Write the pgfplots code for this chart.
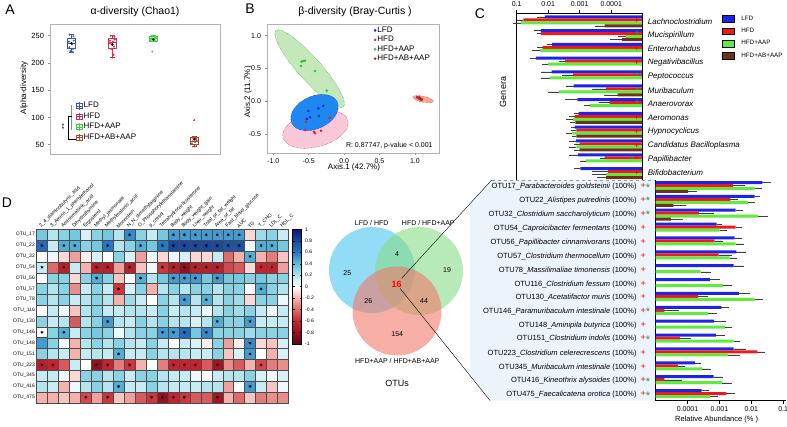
\documentclass[border=0pt]{standalone}
\usepackage{fontspec}
\setmainfont{Liberation Sans}
\usepackage{pgfplots}
\usepackage{pgfplotstable}
\pgfplotsset{compat=1.18}
\usepgfplotslibrary{statistics}

% group colours
\definecolor{bLFD}{RGB}{30,35,235}
\definecolor{bHFD}{RGB}{238,25,30}
\definecolor{bAAP}{RGB}{95,235,60}
\definecolor{bAB}{RGB}{112,50,22}
\definecolor{aLFD}{RGB}{55,85,205}
\definecolor{aHFD}{RGB}{215,45,80}
\definecolor{aAAP}{RGB}{55,215,55}
\definecolor{aAB}{RGB}{170,75,45}
\definecolor{pLFD}{RGB}{20,40,215}
\definecolor{pHFD}{RGB}{228,28,55}
\definecolor{pAAP}{RGB}{45,195,45}
\definecolor{pAB}{RGB}{200,30,40}
\definecolor{starG}{RGB}{35,150,65}
\definecolor{paleblue}{RGB}{236,244,251}
\definecolor{vBlue}{RGB}{100,205,242}
\definecolor{vGreen}{RGB}{135,220,135}
\definecolor{vRed}{RGB}{242,120,105}

\newcommand{\fs}[1]{\fontsize{#1}{#1}\selectfont}
\newcommand{\pl}{\textcolor{red}{\fs{9}+}}
\newcommand{\st}{\textcolor{starG}{\raisebox{-2.6pt}{\fs{11}*}}}
\newcommand{\otu}[3]{#1\_\textit{#2} (100\%)\hspace{4pt}\makebox[11pt][l]{#3}}
\newcommand{\gen}[3]{%
  \node[anchor=east, inner sep=0pt, xshift=-3pt] at (axis cs:1e-5,#1) {#2};
  \node[anchor=west, inner sep=0pt, xshift=5pt, font=\fs{8}\itshape] at (axis cs:1e-5,#1) {#3};}

\pgfplotsset{
  every axis/.append style={scale only axis, enlargelimits=false,
    /pgf/number format/assume math mode=true},
  greyframe/.style={axis line style={black!30, line width=0.8pt},
    tick style={black!45, line width=0.5pt}, tick align=outside,
    major tick length=2.5pt},
  hbar/.style={xbar, bar width=3pt, bar shift=0pt, draw=none,
    error bars/x dir=plus, error bars/x explicit,
    error bars/error bar style={black!75, line width=0.3pt},
    error bars/error mark options={black!75, mark size=0.9pt, line width=0.3pt}},
}

% panel C, genera: relative abundance (%) and error
\pgfplotstableread{
row lfd     lfdE    hfd     hfdE    aap     aapE    ab      abE
0   0.0127  0.0080  0.0616  0.0334  0.073   0.048   1.62e-4 1.48e-4
1   0.017   0.009   0.017   0.005   3.4e-5  2.1e-5  4.6e-5  5.4e-5
2   0.0075  0.003   0.0151  0.0056  0.0183  0.013   nan     nan
3   0.0245  0.0109  0.0029  0.0014  0.01    0.0044  nan     nan
4   0.00785 0.0084  0.00162 0.0018  0.00886 0.0073  nan     nan
5   0.00155 0.00105 1.44e-4 2.36e-4 0.0046  0.0047  6.2e-5  9.8e-5
6   0.00119 0.0016  1.12e-4 1.18e-4 4.8e-4  2.2e-4  nan     nan
7   0.00108 3.7e-4  0.00145 6.5e-4  0.00163 8.7e-4  0.00137 5.3e-4
8   0.00145 3.5e-4  0.00128 5.2e-4  0.0017  8e-4    0.00128 4.2e-4
9   0.0013  8e-4    0.001   4.5e-4  0.00128 7.2e-4  0.001   4.5e-4
10  0.00113 9.7e-4  1.62e-4 4.8e-5  6.5e-4  3e-4    nan     nan
11  9.5e-4  5e-4    1.27e-4 2.5e-4  1.44e-4 2.4e-4  1.44e-4 1.2e-4
}\genera

% panel C, the 16 shared OTUs
\pgfplotstableread{
row lfd     lfdE    hfd     hfdE    aap     aapE    ab      abE
0   0.0221  0.0181  0.00267 0.0032  0.0127  0.0077  1.05e-4 8.5e-5
1   0.0127  0.0047  0.0022  0.0013  0.00787 0.0048  3.6e-5  4.7e-5
2   0.00323 0.0018  2.26e-4 4e-4    0.0162  0.0148  3.0e-5  3.8e-5
3   8.1e-4  3.5e-4  0.00323 0.0015  0.00102 6.3e-4  nan     nan
4   0.003   0.0017  7.1e-4  4.9e-4  0.00323 0.0023  nan     nan
5   0.0034  0.0032  9.5e-4  0.0014  0.0021  0.0013  nan     nan
6   0.00279 0.0027  nan     nan     2.55e-4 2.45e-4 nan     nan
7   5e-4    4.8e-4  nan     nan     0.0013  0.0011  nan     nan
8   0.0041  0.0044  2.15e-4 2.05e-4 0.0127  0.0094  nan     nan
9   0.00115 7.1e-4  1.87e-5 3.2e-5  4.4e-4  3.3e-4  nan     nan
10  6.8e-4  7.8e-4  nan     nan     0.00147 9.3e-4  nan     nan
11  7.7e-4  6.3e-4  5.75e-5 6.6e-5  0.00279 0.0013  nan     nan
12  0.00279 0.0038  0.0154  0.0094  0.00186 0.0022  nan     nan
13  1.7e-4  8.5e-5  5e-5    2.7e-5  2.9e-4  2.1e-4  nan     nan
14  6.6e-4  5.8e-4  1.87e-5 4.6e-5  0.00124 0.0011  nan     nan
15  2.75e-4 1.65e-4 0.00166 0.0013  5e-4    3.6e-4  nan     nan
}\otus

\begin{document}
\begin{tikzpicture}
\useasboundingbox (0pt,0pt) rectangle (787pt,426pt);

% pale region behind the OTU bars
\fill[paleblue] (470pt,222.4pt) -- (491.7pt,246pt) -- (655.7pt,246pt) -- (655.7pt,25.5pt)
  -- (490pt,25.5pt) -- (470pt,50.6pt) -- cycle;

\begin{scope}[x=1pt,y=1pt]
% Venn diagram
\fill[vBlue, fill opacity=0.7] (372,156) circle[radius=43pt];
\fill[vGreen, fill opacity=0.6] (419,155) circle[radius=44pt];
\fill[vRed, fill opacity=0.6] (397,115) circle[radius=44.5pt];
\draw[black, line width=0.4pt] (401.7,147.7) -- (491.7,246);
\draw[black, line width=0.4pt] (400,137.7) -- (490,25.5);
\draw[black!40, dashed, line width=0.4pt] (491.7,246) -- (655.7,246);
\node[font=\fs{7}] at (371.7,203.3) {LFD / HFD};
\node[font=\fs{7}] at (428.3,203.3) {HFD / HFD+AAP};
\node[font=\fs{7}] at (397.3,65) {HFD+AAP / HFD+AB+AAP};
\node[font=\fs{9}] at (397,42.7) {OTUs};
\node[font=\fs{7}] at (347.3,152.7) {25};
\node[font=\fs{7}] at (397,172.3) {4};
\node[font=\fs{7}] at (447,156) {19};
\node[font=\fs{9}\bfseries, text=red] at (396.7,142) {16};
\node[font=\fs{7}] at (368.3,125.3) {26};
\node[font=\fs{7}] at (424,124.7) {44};
\node[font=\fs{7}] at (397.3,92.3) {154};

% panel letters, titles, labels
\node[font=\fs{14}] at (10,416) {A};
\node[font=\fs{14}] at (250,417) {B};
\node[font=\fs{14}] at (480,412) {C};
\node[font=\fs{14}] at (7,223) {D};
\node[font=\fs{10.5}] at (135,414) {α-diversity (Chao1)};
\node[font=\fs{10.5}] at (355,414) {β-diversity (Bray-Curtis )};
\node[font=\fs{8}, rotate=90] at (24,338) {Alpha-diversity};
\node[font=\fs{8}, rotate=90] at (248,334) {Axis.2 (11.7\%)};
\node[font=\fs{8}] at (354,259) {Axis.1 (42.7\%)};
\node[font=\fs{9}, rotate=90] at (503,334) {Genera};
\node[font=\fs{7.5}] at (716.7,6) {Relative Abundance (\% )};

% significance bracket of panel A
\draw[black!45, line width=0.6pt] (71.5,321) -- (71.5,296);
\draw[black, line width=0.6pt] (71.5,310) -- (68.3,310) -- (68.3,286.7) -- (76.7,286.7);
\node[font=\fs{7}, rotate=90] at (64.3,299) {**};
\end{scope}

% ---------- A: alpha diversity ----------
\begin{axis}[greyframe, at={(50pt,272pt)}, anchor=south west,
  width=170pt, height=130pt,
  xmin=-0.52, xmax=3.63, ymin=32.9, ymax=271.5,
  xtick=\empty, ytick={50,100,150,200,250}, ytick pos=left,
  y tick label style={font=\fs{7.5}},
  boxplot/draw direction=y, boxplot/box extend=0.2, boxplot/whisker extend=0.12,
  legend style={at={(0.15,0.41)}, anchor=north west, draw=none, fill=none,
    inner sep=0pt, row sep=0.5pt, font=\fs{8}, legend cell align=left,
    nodes={inner sep=1.5pt}},
  legend image code/.code={
    \draw[#1, line width=0.5pt, fill=white] (0pt,-2.6pt) rectangle (6pt,2.6pt);
    \draw[#1, line width=0.5pt] (3pt,-3.8pt) -- (3pt,3.8pt) (0pt,0pt) -- (6pt,0pt);}]
\addplot[aLFD, line width=0.6pt, boxplot prepared={draw position=0,
  lower whisker=220, lower quartile=226, median=236, upper quartile=245, upper whisker=252}] coordinates {};
\addplot[aHFD, line width=0.6pt, boxplot prepared={draw position=1,
  lower whisker=210, lower quartile=226, median=237, upper quartile=245, upper whisker=250}] coordinates {};
\addplot[aAAP, line width=0.6pt, boxplot prepared={draw position=2,
  lower whisker=239, lower quartile=240, median=245, upper quartile=249, upper whisker=250}] coordinates {};
\addplot[aAB, line width=0.6pt, boxplot prepared={draw position=3,
  lower whisker=47, lower quartile=50, median=57, upper quartile=63, upper whisker=65}] coordinates {};
\addplot[only marks, mark=*, mark size=0.8pt, aLFD] coordinates {
  (-0.04,252)(0.05,249)(0.06,241)(-0.06,239)(0.02,235)(-0.05,229)(0.04,226)(-0.02,222)(0.03,220)};
\addplot[only marks, mark=*, mark size=0.8pt, aHFD] coordinates {
  (0.96,250)(1.05,248)(1.06,243)(0.94,241)(1.02,239)(0.95,236)(1.04,230)(0.97,226)(1.03,215)(1.01,210)};
\addplot[only marks, mark=*, mark size=0.8pt, aAAP] coordinates {
  (1.95,249)(2.04,248)(2.06,246)(1.96,245)(2.02,244)(1.94,242)(2.05,241)(1.98,221)};
\addplot[only marks, mark=*, mark size=0.8pt, aAB] coordinates {
  (2.95,63)(3.04,61)(3.06,58)(2.96,56)(3.02,55)(2.94,52)(3.05,50)(3.0,47)(3.0,95)};
\addplot[only marks, mark=*, mark size=1.1pt, black] coordinates {(0,236)(1,234)(2,243)(3,60)};
\addlegendimage{aLFD}\addlegendentry{LFD}
\addlegendimage{aHFD}\addlegendentry{HFD}
\addlegendimage{aAAP}\addlegendentry{HFD+AAP}
\addlegendimage{aAB}\addlegendentry{HFD+AB+AAP}
\end{axis}

% ---------- B: beta diversity (PCoA) ----------
\begin{axis}[greyframe, at={(267pt,273pt)}, anchor=south west,
  width=172pt, height=129pt,
  xmin=-1.089, xmax=1.34, ymin=-0.791, ymax=1.179,
  xtick={-1,-0.5,0,0.5,1}, ytick={-0.5,0,0.5,1},
  xtick pos=lower, ytick pos=lower,
  tick label style={font=\fs{7}, /pgf/number format/.cd, fixed, fixed zerofill, precision=1},
  legend style={at={(0.621,0.988)}, anchor=north west, draw=none, fill=none,
    inner sep=0pt, row sep=0pt, font=\fs{8}, legend cell align=left,
    nodes={inner sep=1.2pt}},
  legend image code/.code={\draw[#1] plot coordinates {(0pt,0pt)};}]
\draw[draw=green!55!black, densely dotted, line width=0.4pt, fill={rgb,255:red,196;green,232;blue,186},
  rotate around={-48.5:(axis cs:-0.487,0.496)}] (axis cs:-0.487,0.496) ellipse [x radius=51pt, y radius=11.5pt];
\draw[draw=red!80!black, densely dotted, line width=0.4pt, fill={rgb,255:red,248;green,200;blue,216},
  rotate around={15:(axis cs:-0.404,-0.427)}] (axis cs:-0.404,-0.427) ellipse [x radius=33.6pt, y radius=17.7pt];
\draw[draw=blue!70!black, densely dotted, line width=0.4pt, fill={rgb,255:red,30;green,135;blue,240},
  rotate around={25:(axis cs:-0.418,-0.173)}] (axis cs:-0.418,-0.173) ellipse [x radius=25.1pt, y radius=16.3pt];
\draw[draw=red!80!black, densely dotted, line width=0.4pt, fill={rgb,255:red,242;green,170;blue,150},
  rotate around={-12:(axis cs:1.114,0.031)}] (axis cs:1.114,0.031) ellipse [x radius=10.5pt, y radius=3pt];
\addplot[only marks, mark=*, mark size=1.1pt, pLFD] coordinates {
  (-0.506,-0.15)(-0.364,-0.109)(-0.293,-0.073)(-0.354,-0.226)(-0.482,-0.246)(-0.529,-0.272)};
\addlegendentry{LFD}
\addplot[only marks, mark=*, mark size=1.1pt, pHFD] coordinates {
  (-0.538,-0.313)(-0.548,-0.44)(-0.425,-0.466)(-0.411,-0.49)(-0.326,-0.45)(-0.208,-0.252)};
\addlegendentry{HFD}
\addplot[only marks, mark=*, mark size=1.1pt, pAAP] coordinates {
  (-0.6,0.603)(-0.576,0.614)(-0.552,0.618)(-0.608,0.537)(-0.411,0.461)(-0.246,0.16)};
\addlegendentry{HFD+AAP}
\addplot[only marks, mark=*, mark size=1.1pt, pAB] coordinates {
  (1.03,0.06)(1.05,0.05)(1.06,0.04)(1.07,0.05)(1.08,0.03)(1.09,0.02)(1.1,0.03)(1.06,0.06)};
\addlegendentry{HFD+AB+AAP}
\node[anchor=east, font=\fs{7}] at (axis cs:1.3,-0.68) {R: 0.87747, p-value < 0.001};
\end{axis}

% ---------- C (top): genera ----------
\begin{axis}[at={(516.7pt,246pt)}, anchor=south west, width=126pt, height=167pt,
  xmode=log, x dir=reverse, xmin=1e-5, xmax=0.1, ymin=-0.5, ymax=11.6,
  log origin x=infty, clip=false,
  axis x line*=top, axis y line*=none,
  xtick={0.1,0.01,0.001,0.0001}, xticklabels={0.1,0.01,0.001,0.0001}, xminorticks=false,
  ytick=\empty, tick align=outside, major tick length=3pt,
  x tick label style={font=\fs{7}},
  axis line style={black, line width=0.6pt}, tick style={black, line width=0.5pt}]
\addplot[hbar, fill=bLFD] table[x=lfd, y expr=11-\thisrow{row}+0.326, x error=lfdE] {\genera};
\addplot[hbar, fill=bHFD] table[x=hfd, y expr=11-\thisrow{row}+0.109, x error=hfdE] {\genera};
\addplot[hbar, fill=bAAP] table[x=aap, y expr=11-\thisrow{row}-0.109, x error=aapE] {\genera};
\addplot[hbar, fill=bAB] table[x=ab, y expr=11-\thisrow{row}-0.326, x error=abE] {\genera};
\draw[black, line width=0.6pt] (axis cs:1e-5,-0.5) -- (axis cs:1e-5,11.6);
\gen{11}{\pl}{Lachnoclostridium}
\gen{10}{\st}{Mucispirillum}
\gen{9}{\pl}{Enterorhabdus}
\gen{8}{\pl}{Negativibacillus}
\gen{7}{\st}{Peptococcus}
\gen{6}{\st}{Muribaculum}
\gen{5}{\st}{Anaerovorax}
\gen{4}{\pl}{Aeromonas}
\gen{3}{\pl}{Hypnocyclicus}
\gen{2}{\pl}{Candidatus Bacilloplasma}
\gen{1}{\st\pl}{Papillibacter}
\gen{0}{\pl}{Bifidobacterium}
\end{axis}

% legend of panel C
\begin{axis}[at={(721.7pt,411pt)}, anchor=north west, width=5pt, height=5pt, hide axis,
  xmin=0, xmax=1, ymin=0, ymax=1,
  legend style={at={(0,1)}, anchor=north west, draw=none, fill=none, inner sep=0pt,
    font=\fs{6.3}, row sep=5.4pt, legend cell align=left, nodes={inner sep=0pt}},
  legend image code/.code={\fill[#1] (0pt,-3.3pt) rectangle (11.7pt,3.3pt); \path (19pt,0pt);}]
\addlegendimage{fill=bLFD}\addlegendentry{LFD}
\addlegendimage{fill=bHFD}\addlegendentry{HFD}
\addlegendimage{fill=bAAP}\addlegendentry{HFD+AAP}
\addlegendimage{fill=bAB}\addlegendentry{HFD+AB+AAP}
\end{axis}

% ---------- C (bottom): the 16 OTUs ----------
\begin{axis}[at={(655.7pt,25.5pt)}, anchor=south west, width=130pt, height=220.5pt,
  xmode=log, xmin=1e-5, xmax=0.12, ymin=-0.393, ymax=15.505,
  log origin x=infty,
  axis x line*=bottom, axis y line*=left,
  xtick={0.0001,0.001,0.01,0.1}, xticklabels={0.0001,0.001,0.01,0.1}, xminorticks=false,
  ytick={0,...,15}, ytick style={draw=none},
  yticklabels={
    {\otu{OTU475}{Faecalicatena orotica}{\pl\st}},
    {\otu{OTU416}{Kineothrix alysoides}{\pl\st}},
    {\otu{OTU345}{Muribaculum intestinale}{\pl}},
    {\otu{OTU223}{Clostridium celerecrescens}{\pl}},
    {\otu{OTU151}{Clostridium indolis}{\pl\st}},
    {\otu{OTU148}{Aminipila butyrica}{\pl}},
    {\otu{OTU146}{Paramuribaculum intestinale}{\pl\st}},
    {\otu{OTU130}{Acetatifactor muris}{\pl}},
    {\otu{OTU116}{Clostridium fessum}{\pl}},
    {\otu{OTU78}{Massilimaliae timonensis}{\pl}},
    {\otu{OTU57}{Clostridium thermocellum}{\pl}},
    {\otu{OTU56}{Papillibacter cinnamivorans}{\pl}},
    {\otu{OTU54}{Caproicibacter fermentans}{\pl}},
    {\otu{OTU32}{Clostridium saccharolyticum}{\pl\st}},
    {\otu{OTU22}{Alistipes putredinis}{\pl\st}},
    {\otu{OTU17}{Parabacteroides goldsteinii}{\pl\st}}},
  tick align=outside, major tick length=3pt,
  x tick label style={font=\fs{7}}, y tick label style={font=\fs{7.5}, inner sep=1pt},
  axis line style={black, line width=0.6pt}, tick style={black, line width=0.5pt}]
\addplot[hbar, fill=bLFD] table[x=lfd, y expr=15-\thisrow{row}+0.324, x error=lfdE] {\otus};
\addplot[hbar, fill=bHFD] table[x=hfd, y expr=15-\thisrow{row}+0.108, x error=hfdE] {\otus};
\addplot[hbar, fill=bAAP] table[x=aap, y expr=15-\thisrow{row}-0.108, x error=aapE] {\otus};
\addplot[hbar, fill=bAB] table[x=ab, y expr=15-\thisrow{row}-0.324, x error=abE] {\otus};
\end{axis}

% ---------- D: correlation heatmap ----------
\begin{axis}[at={(36.5pt,23.3pt)}, anchor=south west,
  width=251.9pt, height=173.4pt,
  xmin=-0.5, xmax=22.5, ymin=-0.5, ymax=15.5,
  xtick={0,...,22}, ytick={0,...,15},
  minor xtick={-0.5,0.5,...,22.5}, minor ytick={-0.5,0.5,...,15.5},
  xminorgrids=true, yminorgrids=true,
  minor grid style={black!70, line width=0.35pt}, axis on top,
  xticklabels={2\_4\_diaminobutyric\_acid, 3\_Amino\_1\_phenylethanol, Aminomalonic\_acid,
    Dihydrothymine, Ergosterol, Methyl\_jasmonate, Methylmalonic\_acid, Monoolein,
    N\_N\_dimethylarginine, O\_Phosphorylethanolamine, p\_cresol, Tetrahydrocorticosterone,
    Body\_weight, Body\_weight\_gain, Liver\_weight, Total\_of\_fat\_weight, Area\_of\_fat,
    Fast\_blood\_glucose, AUC, TG, T\_CHO, LDL\_C, HDL\_C},
  yticklabels={OTU\_475,OTU\_416,OTU\_345,OTU\_223,OTU\_151,OTU\_148,OTU\_146,OTU\_130,
    OTU\_116,OTU\_78,OTU\_57,OTU\_56,OTU\_54,OTU\_32,OTU\_22,OTU\_17},
  xticklabel pos=upper, major tick length=0pt, minor tick length=0pt,
  x tick label style={rotate=45, anchor=south west, font=\fs{5}, inner sep=0.5pt},
  y tick label style={font=\fs{5}, inner sep=1.5pt},
  axis line style={black!75, line width=0.5pt},
  colormap={hm}{rgb255(0cm)=(100,0,20); rgb255(2cm)=(200,35,45); rgb255(4cm)=(245,178,172);
    rgb255(5cm)=(255,255,255); rgb255(6cm)=(180,228,238); rgb255(7cm)=(95,192,218);
    rgb255(8cm)=(40,120,200); rgb255(10cm)=(8,24,125)},
  point meta min=-1, point meta max=1,
  colorbar,
  colorbar style={at={(1.017,1)}, anchor=north west, width=9pt, height=114.7pt,
    ytick={-1,-0.8,-0.6,-0.4,-0.2,0,0.2,0.4,0.6,0.8,1}, yminorgrids=false, xminorgrids=false,
    minor ytick={}, minor xtick={},
    yticklabel style={font=\fs{5}, /pgf/number format/fixed, /pgf/number format/precision=1},
    major tick length=2pt, tick style={black, line width=0.3pt},
    axis line style={black, line width=0.4pt}}]
\addplot[scatter, only marks, mark=square*, mark size=5.47pt, point meta=explicit,
  scatter/use mapped color={draw=black!70, fill=mapped color}, line width=0.3pt]
  table[row sep=\\, x expr={mod(\coordindex,23)}, y expr={floor(\coordindex/23)}, meta=c] {
c\\
-0.2\\ -0.2\\ -0.15\\ -0.2\\ -0.5\\ -0.25\\ -0.55\\ -0.15\\ -0.25\\ -0.45\\ -0.55\\ -0.8\\ -0.6\\ -0.55\\ -0.45\\ -0.45\\ -0.75\\ -0.2\\ -0.4\\ -0.15\\ -0.35\\ -0.3\\ -0.3\\
0.2\\ 0.15\\ -0.2\\ 0.05\\ 0.2\\ 0.3\\ 0.2\\ 0.45\\ 0.15\\ 0.15\\ 0.3\\ 0.2\\ 0.15\\ 0.15\\ 0.15\\ 0.2\\ 0.2\\ -0.25\\ 0.0\\ 0.5\\ 0.15\\ -0.15\\ 0.05\\
0.15\\ 0.15\\ 0.05\\ -0.1\\ 0.3\\ 0.3\\ 0.2\\ 0.3\\ 0.15\\ 0.3\\ 0.3\\ 0.2\\ 0.15\\ 0.15\\ 0.05\\ 0.0\\ 0.15\\ 0.2\\ 0.2\\ 0.3\\ 0.1\\ 0.05\\ 0.1\\
-0.65\\ -0.6\\ -0.45\\ 0.15\\ 0.0\\ -0.8\\ -0.6\\ -0.35\\ -0.55\\ -0.2\\ 0.0\\ -0.35\\ -0.6\\ -0.6\\ -0.6\\ -0.45\\ -0.75\\ -0.3\\ -0.45\\ -0.2\\ -0.5\\ -0.35\\ -0.3\\
0.3\\ 0.2\\ 0.15\\ -0.2\\ 0.15\\ 0.2\\ 0.15\\ 0.45\\ 0.15\\ 0.15\\ 0.3\\ 0.2\\ 0.2\\ 0.2\\ 0.15\\ 0.15\\ 0.3\\ -0.15\\ 0.1\\ 0.5\\ 0.0\\ -0.2\\ 0.1\\
0.2\\ 0.3\\ 0.05\\ -0.2\\ 0.2\\ 0.3\\ 0.2\\ 0.3\\ 0.2\\ 0.15\\ 0.3\\ 0.15\\ 0.0\\ 0.15\\ 0.1\\ -0.05\\ 0.3\\ -0.25\\ -0.05\\ 0.55\\ -0.1\\ -0.15\\ 0.1\\
0.5\\ 0.3\\ 0.45\\ 0.15\\ 0.3\\ 0.35\\ 0.3\\ 0.05\\ 0.2\\ 0.3\\ 0.3\\ 0.5\\ 0.5\\ 0.65\\ 0.35\\ 0.55\\ 0.3\\ 0.3\\ 0.3\\ 0.25\\ 0.3\\ 0.3\\ 0.3\\
0.3\\ 0.15\\ 0.2\\ -0.45\\ 0.2\\ 0.3\\ 0.5\\ 0.2\\ 0.15\\ 0.3\\ 0.2\\ 0.3\\ 0.2\\ 0.2\\ 0.1\\ 0.2\\ 0.45\\ 0.3\\ 0.3\\ 0.5\\ 0.15\\ 0.15\\ 0.15\\
0.3\\ 0.15\\ 0.05\\ -0.15\\ 0.2\\ 0.3\\ 0.15\\ 0.15\\ 0.2\\ 0.2\\ 0.15\\ 0.3\\ 0.15\\ 0.2\\ 0.15\\ 0.05\\ 0.2\\ 0.3\\ 0.25\\ 0.3\\ 0.15\\ 0.05\\ 0.15\\
0.3\\ 0.2\\ 0.3\\ 0.15\\ 0.2\\ 0.3\\ 0.2\\ -0.2\\ 0.25\\ 0.15\\ 0.0\\ 0.3\\ 0.2\\ 0.5\\ 0.2\\ 0.45\\ 0.2\\ 0.3\\ 0.25\\ -0.1\\ 0.3\\ 0.3\\ 0.05\\
0.3\\ 0.2\\ 0.3\\ -0.3\\ 0.15\\ 0.3\\ 0.15\\ -0.55\\ 0.1\\ 0.3\\ -0.2\\ 0.2\\ 0.3\\ 0.2\\ 0.3\\ 0.3\\ 0.2\\ 0.3\\ 0.3\\ 0.0\\ 0.45\\ 0.3\\ 0.2\\
0.3\\ 0.3\\ 0.3\\ -0.1\\ 0.3\\ 0.45\\ 0.3\\ -0.15\\ 0.0\\ 0.45\\ 0.2\\ 0.35\\ 0.5\\ 0.5\\ 0.5\\ 0.35\\ 0.5\\ 0.35\\ 0.35\\ 0.3\\ 0.35\\ 0.3\\ 0.3\\
-0.7\\ -0.4\\ -0.65\\ 0.15\\ -0.2\\ -0.65\\ -0.65\\ -0.25\\ -0.65\\ -0.15\\ 0.05\\ -0.55\\ -0.65\\ -0.8\\ -0.65\\ -0.65\\ -0.65\\ -0.5\\ -0.45\\ -0.1\\ -0.6\\ -0.6\\ -0.25\\
0.15\\ 0.05\\ -0.1\\ -0.25\\ -0.05\\ 0.1\\ 0.0\\ 0.3\\ 0.1\\ -0.25\\ 0.05\\ -0.1\\ 0.05\\ 0.1\\ -0.1\\ -0.1\\ 0.15\\ -0.4\\ -0.2\\ 0.45\\ -0.2\\ -0.35\\ -0.15\\
0.65\\ 0.15\\ 0.45\\ 0.45\\ 0.3\\ 0.35\\ 0.6\\ 0.2\\ 0.3\\ 0.45\\ 0.35\\ 0.6\\ 0.8\\ 0.8\\ 0.8\\ 0.8\\ 0.8\\ 0.75\\ 0.75\\ 0.05\\ 0.45\\ 0.45\\ 0.35\\
0.35\\ 0.2\\ 0.3\\ 0.35\\ 0.1\\ 0.3\\ 0.35\\ 0.2\\ 0.55\\ 0.3\\ 0.15\\ 0.35\\ 0.5\\ 0.5\\ 0.5\\ 0.5\\ 0.5\\ 0.5\\ 0.5\\ -0.1\\ 0.25\\ 0.3\\ 0.15\\
};
\addplot[only marks, mark=asterisk, mark size=1.5pt, line width=0.5pt, black] coordinates {
  (8,15)(12,15)(13,15)(14,15)(15,15)(16,15)(17,15)(18,15)
  (0,14)(2,14)(3,14)(6,14)(9,14)(11,14)(12,14)(13,14)(14,14)(15,14)(16,14)(17,14)(18,14)(20,14)(21,14)
  (19,13)
  (0,12)(2,12)(5,12)(6,12)(8,12)(11,12)(12,12)(13,12)(14,12)(15,12)(16,12)(20,12)(21,12)
  (5,11)(9,11)(12,11)(13,11)(14,11)(16,11)
  (7,10)(20,10)
  (13,9)(15,9)
  (6,7)(16,7)(19,7)
  (0,6)(2,6)(11,6)(12,6)(13,6)(15,6)
  (19,5)
  (7,4)(19,4)
  (0,3)(1,3)(5,3)(6,3)(8,3)(12,3)(13,3)(14,3)(16,3)(20,3)
  (7,1)(19,1)
  (4,0)(6,0)(10,0)(11,0)(12,0)(13,0)(16,0)};
\end{axis}
\end{tikzpicture}
\end{document}
